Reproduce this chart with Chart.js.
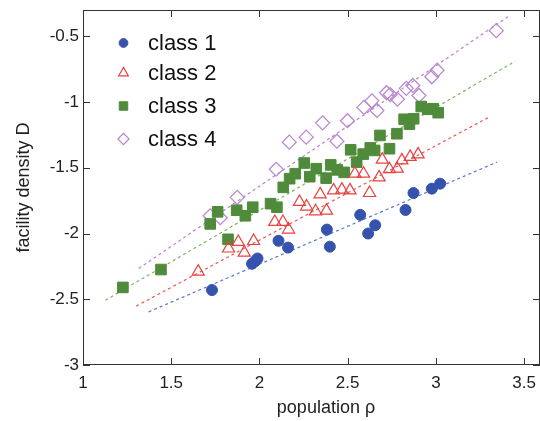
<!DOCTYPE html>
<html><head><meta charset="utf-8">
<script src="https://cdn.jsdelivr.net/npm/chart.js@4/dist/chart.umd.min.js"></script>
<style>html,body{margin:0;padding:0;background:#fff;overflow:hidden}#wrap{width:540px;height:421px;position:relative}</style>
</head><body><div id="wrap"><canvas id="c"></canvas></div>
<script>
// ---- data ----
const seriesLabels = ['class 1', 'class 2', 'class 3', 'class 4'];
const xTicks = [1, 1.5, 2, 2.5, 3, 3.5];
const yTicks = [-3, -2.5, -2, -1.5, -1, -0.5];

const class1X = [1.731, 1.958, 1.976, 1.989, 2.108, 2.162, 2.382, 2.399, 2.571, 2.616, 2.656, 2.828, 2.873, 2.977, 3.024];
const class1Y = [-2.43, -2.23, -2.21, -2.19, -2.055, -2.107, -1.97, -2.10, -1.858, -2.0, -1.937, -1.821, -1.692, -1.659, -1.621];

const class2X = [1.653, 1.825, 1.880, 1.914, 1.967, 2.087, 2.133, 2.165, 2.227, 2.267, 2.318, 2.380, 2.344, 2.420, 2.467, 2.513, 2.541, 2.590, 2.624, 2.678, 2.696, 2.737, 2.781, 2.807, 2.854, 2.899];
const class2Y = [-2.29, -2.114, -2.064, -2.145, -2.057, -1.912, -1.912, -1.97, -1.76, -1.795, -1.831, -1.826, -1.702, -1.672, -1.666, -1.672, -1.545, -1.545, -1.692, -1.573, -1.438, -1.511, -1.507, -1.444, -1.417, -1.398];

const class3X = [1.226, 1.442, 1.721, 1.763, 1.822, 1.871, 1.920, 1.962, 2.063, 2.099, 2.135, 2.171, 2.203, 2.254, 2.285, 2.322, 2.378, 2.404, 2.441, 2.480, 2.517, 2.551, 2.588, 2.628, 2.653, 2.683, 2.737, 2.779, 2.820, 2.850, 2.874, 2.917, 2.954, 2.985, 3.013];
const class3Y = [-2.41, -2.274, -1.927, -1.835, -2.044, -1.823, -1.865, -1.80, -1.773, -1.80, -1.649, -1.583, -1.545, -1.464, -1.568, -1.507, -1.579, -1.478, -1.516, -1.535, -1.363, -1.457, -1.396, -1.349, -1.368, -1.254, -1.355, -1.241, -1.131, -1.168, -1.127, -1.034, -1.055, -1.051, -1.081];

const class4X = [1.721, 1.778, 1.874, 2.095, 2.169, 2.265, 2.358, 2.439, 2.499, 2.592, 2.637, 2.666, 2.720, 2.741, 2.782, 2.832, 2.869, 2.904, 2.977, 3.007, 3.342];
const class4Y = [-1.865, -1.880, -1.725, -1.511, -1.305, -1.267, -1.158, -1.298, -1.142, -1.041, -0.991, -1.064, -0.929, -0.943, -0.979, -0.896, -0.874, -0.950, -0.808, -0.758, -0.457];

// dashed fit lines (end points)
const fit1X = [1.372, 3.346], fit1Y = [-2.596, -1.457];
const fit2X = [1.302, 3.308], fit2Y = [-2.552, -1.110];
const fit3X = [1.127, 3.449], fit3Y = [-2.507, -0.690];
const fit4X = [1.316, 3.417], fit4Y = [-2.266, -0.343];

// ---- styling ----
const pts = (xs, ys) => xs.map((x, i) => ({x, y: ys[i]}));
const FONT = "'Liberation Sans', Arial, sans-serif";
const markerStyles = [
  {pointStyle: 'circle', pointRadius: 5.5, backgroundColor: '#3553ad', borderColor: '#3553ad', pointBorderWidth: 1},
  {pointStyle: 'triangle', pointRadius: 7, backgroundColor: 'rgba(0,0,0,0)', borderColor: '#e8413f', pointBorderWidth: 1.2},
  {pointStyle: 'rect', pointRadius: 7.5, backgroundColor: '#4f8b3b', borderColor: '#4f8b3b', pointBorderWidth: 1},
  {pointStyle: 'rectRot', pointRadius: 7, backgroundColor: 'rgba(0,0,0,0)', borderColor: '#b985cf', pointBorderWidth: 1.2}
];
const lineColors = ['#5a74d0', '#e85a5a', '#7db45e', '#bd7fd8'];
const seriesX = [class1X, class2X, class3X, class4X];
const seriesY = [class1Y, class2Y, class3Y, class4Y];
const fitsX = [fit1X, fit2X, fit3X, fit4X];
const fitsY = [fit1Y, fit2Y, fit3Y, fit4Y];

const datasets = [];
for (let i = 0; i < 4; i++) {
  datasets.push({
    type: 'line', label: 'fit ' + (i + 1), data: pts(fitsX[i], fitsY[i]),
    borderColor: lineColors[i], borderWidth: 1.2, borderDash: [3, 3],
    pointRadius: 0, fill: false, showLine: true, order: 10
  });
}
for (let i = 0; i < 4; i++) {
  const m = markerStyles[i];
  datasets.push({
    type: 'scatter', label: seriesLabels[i], data: pts(seriesX[i], seriesY[i]),
    pointStyle: m.pointStyle, pointRadius: m.pointRadius, pointHoverRadius: m.pointRadius,
    backgroundColor: m.backgroundColor, borderColor: m.borderColor, pointBorderWidth: m.pointBorderWidth,
    showLine: false, order: 1
  });
}

const boxPlugin = {
  id: 'box',
  afterDatasetsDraw(chart) {
    const {ctx, chartArea: a, scales: {x, y}} = chart;
    ctx.save();
    ctx.strokeStyle = '#333';
    ctx.lineWidth = 1;
    ctx.strokeRect(a.left + 0.5, a.top + 0.5, a.right - a.left - 1, a.bottom - a.top - 1);
    const L = 7;
    ctx.beginPath();
    xTicks.forEach(v => {
      const px = Math.round(x.getPixelForValue(v)) + 0.5;
      ctx.moveTo(px, a.bottom); ctx.lineTo(px, a.bottom - L);
      ctx.moveTo(px, a.top); ctx.lineTo(px, a.top + L);
    });
    yTicks.forEach(v => {
      const py = Math.round(y.getPixelForValue(v)) + 0.5;
      ctx.moveTo(a.left, py); ctx.lineTo(a.left + L, py);
      ctx.moveTo(a.right, py); ctx.lineTo(a.right - L, py);
    });
    ctx.stroke();
    // x axis title
    ctx.fillStyle = '#222';
    ctx.font = '18px ' + FONT;
    ctx.textAlign = 'center';
    ctx.textBaseline = 'middle';
    ctx.fillText('population ρ', 326, 408);
    // legend
    const ly = [43, 73, 106, 139];
    ctx.font = '22px ' + FONT;
    ctx.textAlign = 'left';
    for (let i = 0; i < 4; i++) {
      const m = markerStyles[i];
      ctx.fillStyle = m.backgroundColor;
      ctx.strokeStyle = m.borderColor;
      ctx.lineWidth = m.pointBorderWidth;
      Chart.helpers.drawPoint(ctx, {pointStyle: m.pointStyle, radius: m.pointRadius * 0.8, rotation: 0, borderWidth: m.pointBorderWidth}, 123.5, ly[i]);
      ctx.fillStyle = '#111';
      ctx.fillText(seriesLabels[i], 148, ly[i] + 1);
    }
    ctx.restore();
  }
};

const fmt = v => String(Math.round(v * 10) / 10);

new Chart(document.getElementById('c'), {
  type: 'scatter',
  data: {datasets},
  plugins: [boxPlugin],
  options: {
    responsive: true, maintainAspectRatio: false, animation: false,
    layout: {autoPadding: false, padding: {top: 10, right: 0, left: 0, bottom: 0}},
    plugins: {legend: {display: false}, tooltip: {enabled: false}},
    scales: {
      x: {
        type: 'linear', min: 1, max: 3.59,
        afterBuildTicks: s => { s.ticks = xTicks.map(v => ({value: v})); },
        afterFit: s => { s.height = 56; s.paddingLeft = 0; s.paddingRight = 0; },
        grid: {display: false, drawTicks: false},
        border: {display: false},
        ticks: {font: {size: 17, family: FONT}, color: '#222', padding: 8, maxRotation: 0, callback: v => fmt(v)}
      },
      y: {
        type: 'linear', min: -3, max: -0.3,
        afterBuildTicks: s => { s.ticks = yTicks.map(v => ({value: v})); },
        afterFit: s => { s.width = 83; s.paddingTop = 0; s.paddingBottom = 0; },
        grid: {display: false, drawTicks: false},
        border: {display: false},
        ticks: {font: {size: 17, family: FONT}, color: '#222', padding: 4, callback: v => fmt(v)},
        title: {display: true, text: 'facility density D', font: {size: 18, family: FONT}, color: '#222', padding: {top: 13, bottom: 0}}
      }
    }
  }
});
</script></body></html>
